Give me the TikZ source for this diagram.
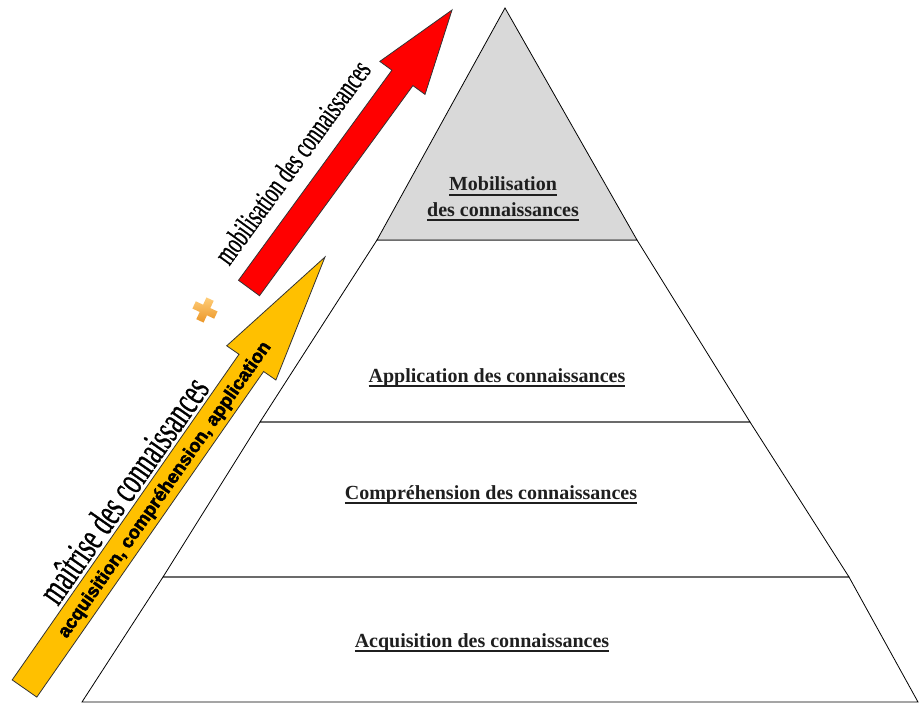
\documentclass[tikz,border=0pt]{standalone}
\usepackage{fontspec}
\setmainfont{Liberation Serif}
\newfontfamily\arrowfont[FakeBold=2.5]{Liberation Sans Bold}
\newfontfamily\narrowfont[FakeStretch=0.62,FakeBold=0.6]{Liberation Serif}
\usetikzlibrary{positioning}

\newcommand{\thickul}[1]{\setbox0\hbox{#1}\rlap{\vrule height -2.2pt depth 3.6pt width \wd0}\box0}

\tikzset{
  layer/.style={draw=black, line width=0.6pt, line join=miter},
  lvlLabel/.style={font=\bfseries\fontsize{15}{19}\selectfont, align=center, text=black!88, inner sep=0pt},
  bigArrow/.style={draw=black!80, line width=0.6pt, line join=miter},
  sideLabel/.style={inner sep=0pt, text=black}
}

\begin{document}
\begin{tikzpicture}[x=0.75pt,y=-0.75pt]
\useasboundingbox (0,0) rectangle (920,703);
\definecolor{topGray}{RGB}{217,217,217}
\definecolor{arrowRed}{RGB}{255,0,0}
\definecolor{arrowGold}{RGB}{255,192,0}
\definecolor{crossOrange}{RGB}{235,150,40}
\definecolor{crossLight}{RGB}{255,205,120}
% pyramide
\draw[layer] (82,702) -- (918,702) -- (849,577) -- (163,577) -- cycle;
\draw[layer] (163,577) -- (849,577) -- (750,422) -- (260,422) -- cycle;
\draw[layer] (260,422) -- (750,422) -- (637,240) -- (377,240) -- cycle;
\draw[layer, fill=topGray] (377,240) -- (637,240) -- (505,8) -- cycle;
\node[lvlLabel] (lblMob) at (503,199) {\thickul{Mobilisation}\\\thickul{des connaissances}};
\node[lvlLabel] (lblApp) at (497,378) {\thickul{Application des connaissances}};
\node[lvlLabel] (lblComp) at (491,495) {\thickul{Compréhension des connaissances}};
\node[lvlLabel] (lblAcq) at (482,643) {\thickul{Acquisition des connaissances}};
% fleches
\draw[bigArrow, fill=arrowRed] (238.5,280.3) -- (391.9,70.2) -- (379.8,61.4) -- (452,10) -- (425,94.4) -- (412.9,85.6) -- (259.5,295.7) -- cycle;
\draw[bigArrow, fill=arrowGold] (12.2,679.9) -- (239,354.3) -- (226.7,345.8) -- (325,257) -- (275.9,380) -- (263.6,371.5) -- (36.8,697.1) -- cycle;
\node[sideLabel, rotate=54, font=\narrowfont\fontsize{23.5}{25}\selectfont] (txtMob) at (292,162) {mobilisation des connaissances};
\node[sideLabel, rotate=55, font=\narrowfont\fontsize{30}{32}\selectfont] (txtMai) at (123,490) {maîtrise des connaissances};
\node[sideLabel, rotate=55, font=\arrowfont\fontsize{14}{16}\selectfont] (txtAcq) at (165,490) {acquisition, compréhension, application};
% croix
\begin{scope}[shift={(205,310)}, rotate=-25]
  \shade[top color=crossLight, bottom color=crossOrange] (-4,-12) -- (4,-12) -- (4,-4) -- (12,-4) -- (12,4) -- (4,4) -- (4,12) -- (-4,12) -- (-4,4) -- (-12,4) -- (-12,-4) -- (-4,-4) -- cycle;
\end{scope}
\end{tikzpicture}
\end{document}
